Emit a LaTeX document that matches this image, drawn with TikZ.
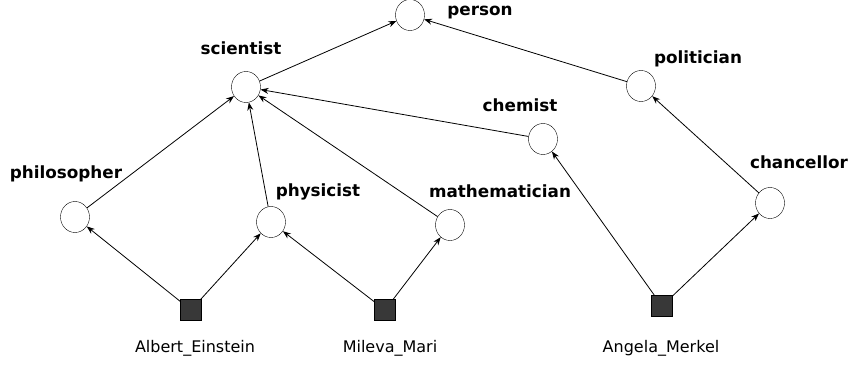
\documentclass[tikz,border=0pt]{standalone}
\usepackage{fontspec}
\setmainfont{DejaVu Sans}
\usetikzlibrary{shapes.geometric,arrows.meta}
\begin{document}
\fontsize{16.8pt}{20pt}\selectfont
\begin{tikzpicture}[x=1pt,y=-1pt,
  concept/.style={draw, ellipse, minimum width=29pt, minimum height=31pt, inner sep=0pt},
  entity/.style={draw, fill=black!78, minimum size=21pt, inner sep=0pt},
  lbl/.style={font=\bfseries, anchor=base, inner sep=0pt},
  ent lbl/.style={font=\fontsize{16pt}{19pt}\selectfont, anchor=base, inner sep=0pt},
  edge/.style={-{Stealth[length=8pt,width=6pt]}, line width=0.8pt}]
\useasboundingbox (0,0) rectangle (850,364);
\node[concept] (person) at (410,15) {};
\node[concept] (scientist) at (246,87) {};
\node[concept] (politician) at (641,86) {};
\node[concept] (chemist) at (543,139) {};
\node[concept] (philosopher) at (75,217) {};
\node[concept] (physicist) at (271,222) {};
\node[concept] (mathematician) at (450,225) {};
\node[concept] (chancellor) at (770,203) {};
\node[entity] (einstein) at (191,310) {};
\node[entity] (mileva) at (385,310) {};
\node[entity] (merkel) at (662,306) {};
% labels
\node[lbl] (person-l) at (480,15) {person};
\node[lbl] (scientist-l) at (241,54) {scientist};
\node[lbl] (politician-l) at (698,63) {politician};
\node[lbl] (chemist-l) at (520,111) {chemist};
\node[lbl] (philosopher-l) at (66,178) {philosopher};
\node[lbl] (physicist-l) at (318,196) {physicist};
\node[lbl] (mathematician-l) at (500,197) {mathematician};
\node[lbl] (chancellor-l) at (799,168) {chancellor};
\node[ent lbl] (einstein-l) at (195,352) {Albert\_Einstein};
\node[ent lbl] (mileva-l) at (390,352) {Mileva\_Mari};
\node[ent lbl] (merkel-l) at (661,352) {Angela\_Merkel};
% edges
\draw[edge] (scientist) -- (person);
\draw[edge] (politician) -- (person);
\draw[edge] (chemist) -- (scientist);
\draw[edge] (philosopher) -- (scientist);
\draw[edge] (physicist) -- (scientist);
\draw[edge] (mathematician) -- (scientist);
\draw[edge] (chancellor) -- (politician);
\draw[edge] (einstein) -- (philosopher);
\draw[edge] (einstein) -- (physicist);
\draw[edge] (mileva) -- (physicist);
\draw[edge] (mileva) -- (mathematician);
\draw[edge] (merkel) -- (chemist);
\draw[edge] (merkel) -- (chancellor);
\end{tikzpicture}
\end{document}
